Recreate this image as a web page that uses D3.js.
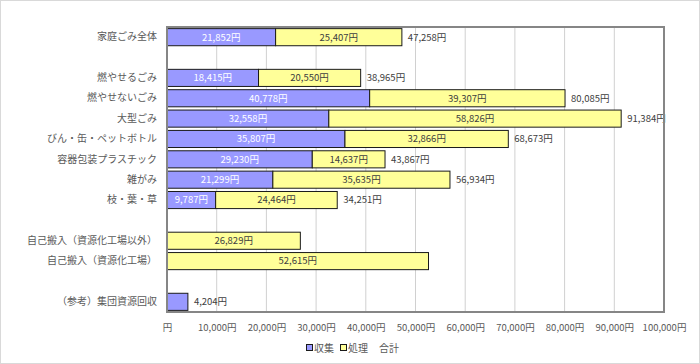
<!DOCTYPE html>
<html>
<head>
<meta charset="utf-8">
<script src="https://cdn.jsdelivr.net/npm/d3@7"></script>
<style>
  body { margin: 0; background: #fff; }
  svg text { font-family: "Noto Sans CJK JP", "Noto Sans", sans-serif; }
</style>
</head>
<body>
<div id="chart"></div>
<script>
// categories (blank rows are spacers)
const categories = ['家庭ごみ全体', '', '燃やせるごみ', '燃やせないごみ', '大型ごみ', 'びん・缶・ペットボトル',
  '容器包装プラスチック', '雑がみ', '枝・葉・草', ' ', '自己搬入（資源化工場以外）', '自己搬入（資源化工場）', '  ', '（参考）集団資源回収'];
const collect = [21852, null, 18415, 40778, 32558, 35807, 29230, 21299, 9787, null, null, null, null, 4204];
const process = [25407, null, 20550, 39307, 58826, 32866, 14637, 35635, 24464, null, 26829, 52615, null, null];
const totals = [47258, null, 38965, 80085, 91384, 68673, 43867, 56934, 34251, null, null, null, null, 4204];
const xTicks = [0, 10000, 20000, 30000, 40000, 50000, 60000, 70000, 80000, 90000, 100000];
const seriesNames = ['収集', '処理', '合計'];

const width = 700, height = 364;
const margin = { top: 27, right: 36, bottom: 52, left: 167 };
const fmt = d => (d === 0 ? '' : d3.format(',')(d)) + '円';
const numSize = 9.5;

const svg = d3.select('#chart').append('svg')
  .attr('width', width)
  .attr('height', height);

// outer frame
svg.append('rect')
  .attr('x', 0.5).attr('y', 0.5)
  .attr('width', width - 1).attr('height', height - 1)
  .attr('fill', '#fff').attr('stroke', '#d9d9d9');

const x = d3.scaleLinear()
  .domain([0, 100000])
  .range([margin.left, width - margin.right]);
const y = d3.scaleBand()
  .domain(categories)
  .range([margin.top, height - margin.bottom])
  .paddingInner(0.16)
  .paddingOuter(0.08);

// gridlines
svg.append('g')
  .selectAll('line')
  .data(xTicks.slice(1, -1))
  .join('line')
  .attr('x1', d => x(d)).attr('x2', d => x(d))
  .attr('y1', margin.top).attr('y2', height - margin.bottom)
  .attr('stroke', '#d0d0d0');

const rows = categories.map((c, i) => ({ c, col: collect[i], pro: process[i], tot: totals[i] }));

// 収集 bars
svg.append('g')
  .selectAll('rect')
  .data(rows.filter(d => d.col != null))
  .join('rect')
  .attr('x', x(0))
  .attr('y', d => y(d.c))
  .attr('width', d => x(d.col) - x(0))
  .attr('height', y.bandwidth())
  .attr('fill', '#9999ff')
  .attr('stroke', '#1a1a1a')
  .attr('stroke-width', 1);

// 処理 bars
svg.append('g')
  .selectAll('rect')
  .data(rows.filter(d => d.pro != null))
  .join('rect')
  .attr('x', d => x(d.col || 0))
  .attr('y', d => y(d.c))
  .attr('width', d => x(d.pro) - x(0))
  .attr('height', y.bandwidth())
  .attr('fill', '#ffff99')
  .attr('stroke', '#1a1a1a')
  .attr('stroke-width', 1);

// labels inside bars
svg.append('g')
  .selectAll('text')
  .data(rows.filter(d => d.col != null && d.pro != null))
  .join('text')
  .attr('x', d => (x(0) + x(d.col)) / 2)
  .attr('y', d => y(d.c) + y.bandwidth() / 2)
  .attr('dy', '0.35em')
  .attr('text-anchor', 'middle')
  .attr('font-size', numSize)
  .attr('fill', '#fff')
  .text(d => fmt(d.col));

svg.append('g')
  .selectAll('text')
  .data(rows.filter(d => d.pro != null))
  .join('text')
  .attr('x', d => (x(d.col || 0) + x((d.col || 0) + d.pro)) / 2)
  .attr('y', d => y(d.c) + y.bandwidth() / 2)
  .attr('dy', '0.35em')
  .attr('text-anchor', 'middle')
  .attr('font-size', numSize)
  .attr('fill', '#404040')
  .text(d => fmt(d.pro));

// 合計 labels
svg.append('g')
  .selectAll('text')
  .data(rows.filter(d => d.tot != null))
  .join('text')
  .attr('x', d => x(d.tot) + 6)
  .attr('y', d => y(d.c) + y.bandwidth() / 2)
  .attr('dy', '0.35em')
  .attr('font-size', numSize)
  .attr('fill', '#404040')
  .text(d => fmt(d.tot));

// plot border
svg.append('rect')
  .attr('x', margin.left).attr('y', margin.top)
  .attr('width', x(100000) - x(0))
  .attr('height', height - margin.bottom - margin.top)
  .attr('fill', 'none')
  .attr('stroke', '#868686')
  .attr('stroke-width', 2);

// category axis
svg.append('g')
  .attr('transform', `translate(${margin.left},0)`)
  .call(d3.axisLeft(y).tickSize(0).tickPadding(10))
  .call(g => g.select('.domain').remove())
  .selectAll('text')
  .attr('font-size', 10)
  .attr('fill', '#595959');

// value axis
svg.append('g')
  .attr('transform', `translate(0,${height - margin.bottom})`)
  .call(d3.axisBottom(x).tickValues(xTicks).tickFormat(fmt).tickSize(0).tickPadding(12))
  .call(g => g.select('.domain').remove())
  .selectAll('text')
  .attr('font-size', numSize)
  .attr('fill', '#595959');

// legend
const legend = svg.append('g').attr('transform', 'translate(306,348)');
const legendItems = [
  { name: seriesNames[0], fill: '#9999ff', dx: 0 },
  { name: seriesNames[1], fill: '#ffff99', dx: 34 },
  { name: seriesNames[2], fill: null, dx: 73 }
];
legendItems.forEach(d => {
  const g = legend.append('g').attr('transform', `translate(${d.dx},0)`);
  if (d.fill) {
    g.append('rect').attr('x', 0.5).attr('y', -3.5).attr('width', 6).attr('height', 6)
      .attr('fill', d.fill).attr('stroke', '#1a1a1a');
  }
  g.append('text').attr('x', d.fill ? 8 : 0).attr('dy', '0.35em')
    .attr('font-size', 10).attr('fill', '#595959').text(d.name);
});
</script>
</body>
</html>
